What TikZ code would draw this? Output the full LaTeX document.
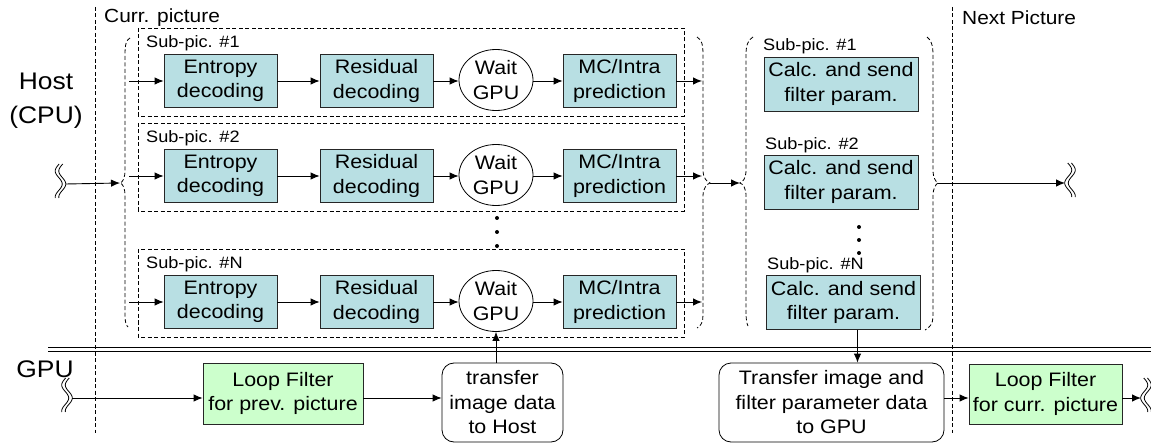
\documentclass[tikz,border=0pt]{standalone}
\usepackage{fontspec}
\setmainfont{Liberation Sans}[FakeStretch=1.1]
\usetikzlibrary{arrows.meta,shapes.geometric}
\definecolor{cyanbox}{HTML}{B8DFE3}
\definecolor{greenbox}{HTML}{CCFFCC}
\begin{document}
\begin{tikzpicture}[x=1pt,y=-1pt,
  txt/.style={font=\fontsize{19.5}{24.5}\selectfont},
  box/.style={txt,draw=black!85,line width=0.8pt,fill=cyanbox,minimum width=113pt,minimum height=53pt,inner sep=0pt,align=center},
  calcbox/.style={box,minimum width=154pt,minimum height=54pt},
  loopbox/.style={box,fill=greenbox,minimum height=61pt},
  waitnode/.style={txt,ellipse,draw,line width=0.8pt,fill=white,minimum width=74pt,minimum height=61pt,inner sep=0pt,align=center},
  trbox/.style={txt,draw,line width=0.8pt,rounded corners=12pt,fill=white,minimum height=79pt,inner sep=0pt,align=center},
  dsh/.style={line width=0.8pt,dash pattern=on 4pt off 2.5pt},
  arr/.style={-{Latex[length=9pt,width=7.5pt]},line width=0.9pt},
  sublbl/.style={anchor=west,inner sep=0pt,font=\fontsize{16.5}{18}\selectfont},
  biglbl/.style={align=center,inner sep=0pt,font=\fontsize{24}{34}\selectfont},
  hdr/.style={anchor=west,inner sep=0pt,font=\fontsize{19}{22}\selectfont},
  dotmark/.style={fill=black,circle,inner sep=0pt,minimum size=4pt},
  brkl/.pic={\foreach \dx in {-1.8,1.8} \draw[line width=0.8pt] plot[domain=-20:14,samples=35,smooth] ({\dx+3.5*cos(180*\x/13)},\x);},
  brkr/.pic={\foreach \dx in {-1.8,1.8} \draw[line width=0.8pt] plot[domain=-20:14,samples=35,smooth] ({\dx-3.5*cos(180*\x/13)},\x);}
]
\useasboundingbox (0,0) rectangle (1151,446);

% vertical separators
\draw[dsh] (95.7,7) -- (95.7,433);
\draw[dsh] (952,7) -- (952,433);
\node[hdr] (currhdr) at (104,18) {Curr. picture};
\node[hdr] (nexthdr) at (962,18) {Next Picture};

% side labels
\node[biglbl] (host) at (46,101) {Host\\(CPU)};
\node[biglbl] (gpu) at (45,369) {GPU};

% host / gpu separator
\draw[line width=0.9pt] (48,347.8) -- (1151,347.8);
\draw[line width=0.9pt] (48,351.5) -- (1151,351.5);

% sub-picture rows
\foreach \r/\y in {1/81,2/176,N/302}{
  \draw[dsh] (138,\y-53) rectangle (684,\y+35);
  \node[sublbl] (sl\r) at (146,\y-38) {Sub-pic. \#\r};
  \node[box] (e\r) at (220.5,\y) {Entropy\\decoding};
  \node[box] (r\r) at (376.5,\y) {Residual\\decoding};
  \node[waitnode] (w\r) at (496,\y-1) {Wait\\GPU};
  \node[box] (m\r) at (619.5,\y) {MC/Intra\\prediction};
  \coordinate (in\r) at (129,\y);
  \coordinate (out\r) at (702,\y);
  \draw[arr] (in\r) -- (e\r.west);
  \draw[arr] (e\r.east) -- (r\r.west);
  \draw[arr] (r\r.east) -- (r\r.east -| w\r.west);
  \draw[arr] (m\r.west -| w\r.east) -- (m\r.west);
  \draw[arr] (m\r.east) -- (out\r);
}
\node[dotmark] (d1) at (497,218) {};
\node[dotmark] (d2) at (497,232) {};
\node[dotmark] (d3) at (497,246) {};

% braces
\coordinate (lb1) at (120,183);
\coordinate (rb1) at (710,183);
\coordinate (lb2) at (740,183);
\coordinate (rb2) at (938,183);
\draw[dsh] (130,38) .. controls (126,40) and (125,45) .. (125,55) -- (125,170)
  .. controls (125,178) and (123,182) .. (lb1) .. controls (123,184) and (125,188) .. (125,196)
  -- (125,315) .. controls (125,322) and (126,325) .. (128,327);
\draw[dsh] (697,37) .. controls (702,40) and (703,45) .. (703,55) -- (703,170)
  .. controls (703,178) and (707,182) .. (rb1) .. controls (707,184) and (703,188) .. (703,196)
  -- (703,315) .. controls (703,322) and (701,326) .. (697,328);
\draw[dsh] (753,37) .. controls (748,40) and (746,45) .. (746,55) -- (746,170)
  .. controls (746,178) and (743,182) .. (lb2) .. controls (743,184) and (746,188) .. (746,196)
  -- (746,313) .. controls (746,320) and (747,324) .. (748,326);
\draw[dsh] (927,37) .. controls (931,40) and (933,45) .. (933,55) -- (933,170)
  .. controls (933,178) and (936,182) .. (rb2) .. controls (936,184) and (933,188) .. (933,196)
  -- (933,317) .. controls (933,324) and (929,328) .. (925,330);

% filter-parameter column
\node[sublbl] (cl1) at (763,46) {Sub-pic. \#1};
\node[sublbl] (cl2) at (765,145) {Sub-pic. \#2};
\node[sublbl] (clN) at (767,265) {Sub-pic. \#N};
\node[calcbox] (c1) at (841,84) {Calc. and send\\filter param.};
\node[calcbox] (c2) at (841,182) {Calc. and send\\filter param.};
\node[calcbox] (cN) at (843.5,302.5) {Calc. and send\\filter param.};
\node[dotmark] (e1d) at (859,227) {};
\node[dotmark] (e2d) at (859,240) {};
\node[dotmark] (e3d) at (859,253) {};

% break marks and flow between pictures
\pic at (60.5,184) {brkl};
\coordinate (brkL) at (65.5,184);
\pic at (1070,183) {brkr};
\coordinate (brkR) at (1065,183);
\draw[arr] (brkL) -- (lb1);
\draw[arr] (rb1) -- (lb2);
\draw[arr] (rb2) -- (brkR);

% GPU row
\pic at (67,398) {brkl};
\coordinate (brkG) at (72,398);
\pic at (1146,398) {brkr};
\coordinate (brkG2) at (1141,398);
\node[loopbox,minimum width=160pt] (lp) at (283,393.5) {Loop Filter\\for prev. picture};
\node[trbox,minimum width=121pt] (t1) at (502.5,402.5) {transfer\\image data\\to Host};
\node[trbox,minimum width=225pt] (t2) at (831.5,402.5) {Transfer image and\\filter parameter data\\to GPU};
\node[loopbox,minimum width=153pt,minimum height=60pt] (lc) at (1045.5,394) {Loop Filter\\for curr. picture};
\draw[arr] (brkG) -- (brkG -| lp.west);
\draw[arr] (lp.east |- brkG) -- (t1.west |- brkG);
\draw[arr] (wN.south |- t1.north) -- (wN.south);
\draw[arr] ([xshift=14pt]cN.south) -- ([xshift=14pt]cN.south |- t2.north);
\draw[arr] (t2.east |- brkG) -- (lc.west |- brkG);
\draw[arr] (lc.east |- brkG) -- (brkG2);
\end{tikzpicture}
\end{document}
